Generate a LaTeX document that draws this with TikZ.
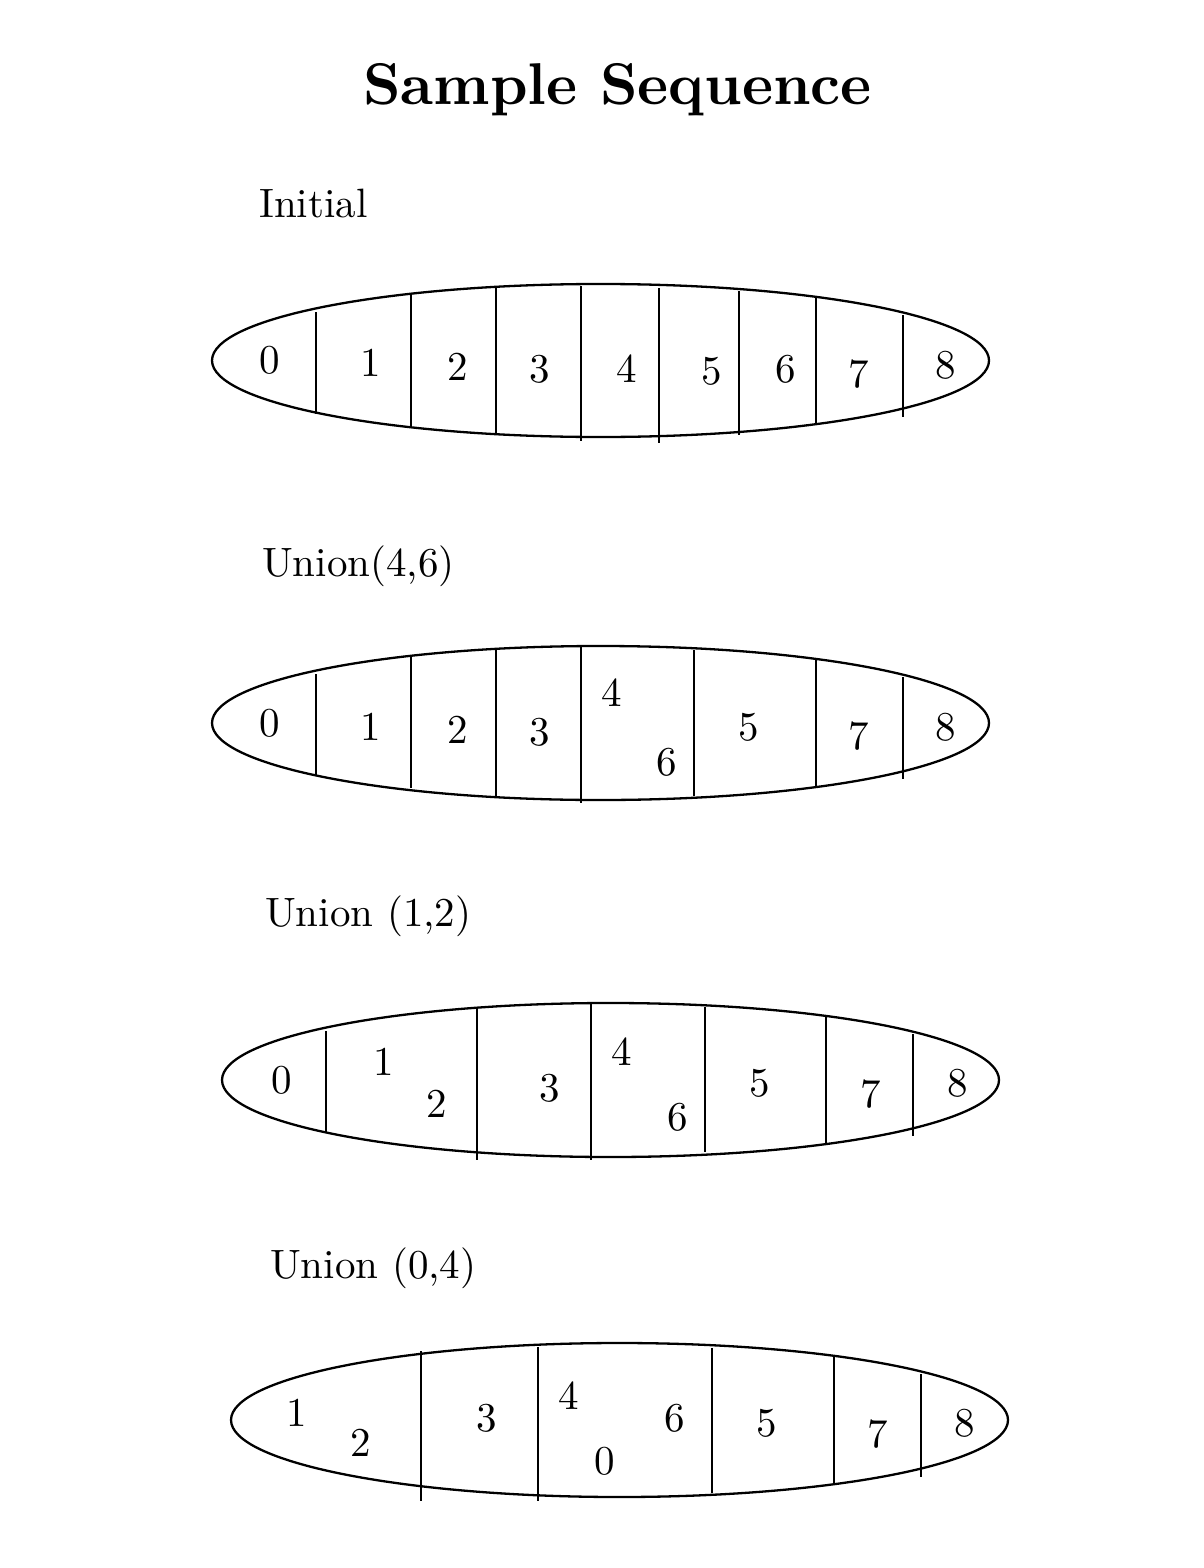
\documentclass[tikz,border=0pt]{standalone}
\newcommand{\bignum}[1]{\scalebox{4.1}{\fontsize{10}{12}\selectfont #1}}
\newcommand{\biglab}[1]{\scalebox{4.1}{\fontsize{10}{12}\selectfont #1}}
\newcommand{\bigtitle}[1]{\scalebox{5.89}{\fontsize{10}{12}\selectfont\bfseries #1}}
\begin{document}
\begin{tikzpicture}[x=1pt,y=-1pt,
  bag/.style={line width=2.3pt},
  bar/.style={line width=2.3pt},
  num/.style={inner sep=0pt},
  lab/.style={anchor=west, inner sep=0pt}]
\useasboundingbox (0,0) rectangle (1204,1568);
\node[inner sep=0pt] (title) at (617.5,90) {\bigtitle{Sample Sequence}};

% Initial
\node[lab] (l1) at (259,203) {\biglab{Initial}};
\draw[bag] (600.5,360.5) ellipse [x radius=388.5, y radius=76.5];
\foreach \x/\a/\b in {316/312/414, 411/294/426, 496/287/435, 581/286/441, 659/288/443, 739/291/435, 816/297/424, 903/315/417}
  \draw[bar] (\x,\a) -- (\x,\b);
\node[num] (a0) at (270,360) {\bignum{0}};
\node[num] (a1) at (371,363) {\bignum{1}};
\node[num] (a2) at (458,367) {\bignum{2}};
\node[num] (a3) at (540,369) {\bignum{3}};
\node[num] (a4) at (627,369) {\bignum{4}};
\node[num] (a5) at (712,371) {\bignum{5}};
\node[num] (a6) at (786,369) {\bignum{6}};
\node[num] (a7) at (859,374) {\bignum{7}};
\node[num] (a8) at (946,365) {\bignum{8}};

% Union(4,6)
\node[lab] (l2) at (262,566) {\biglab{Union(4,6)}};
\draw[bag] (600.5,723) ellipse [x radius=388.5, y radius=77];
\foreach \x/\a/\b in {316/674/776, 411/657/788, 496/649/796, 581/647/803, 694/650/796, 816/660/786, 903/677/779}
  \draw[bar] (\x,\a) -- (\x,\b);
\node[num] (b0) at (270,723) {\bignum{0}};
\node[num] (b1) at (371,727) {\bignum{1}};
\node[num] (b2) at (458,730) {\bignum{2}};
\node[num] (b3) at (540,732) {\bignum{3}};
\node[num] (b4) at (612,693) {\bignum{4}};
\node[num] (b6) at (667,762) {\bignum{6}};
\node[num] (b5) at (749,727) {\bignum{5}};
\node[num] (b7) at (859,736) {\bignum{7}};
\node[num] (b8) at (946,727) {\bignum{8}};

% Union (1,2)
\node[lab] (l3) at (265,916) {\biglab{Union (1,2)}};
\draw[bag] (610.5,1080) ellipse [x radius=388.5, y radius=77];
\foreach \x/\a/\b in {326/1031/1132, 477/1009/1160, 591/1004/1160, 705/1007/1152, 826/1017/1143, 913/1034/1136}
  \draw[bar] (\x,\a) -- (\x,\b);
\node[num] (c0) at (282,1080) {\bignum{0}};
\node[num] (c1) at (384,1062) {\bignum{1}};
\node[num] (c2) at (437,1104) {\bignum{2}};
\node[num] (c3) at (550,1088) {\bignum{3}};
\node[num] (c4) at (622,1052) {\bignum{4}};
\node[num] (c6) at (678,1117) {\bignum{6}};
\node[num] (c5) at (760,1083) {\bignum{5}};
\node[num] (c7) at (871,1094) {\bignum{7}};
\node[num] (c8) at (958,1083) {\bignum{8}};

% Union (0,4)
\node[lab] (l4) at (270,1268) {\biglab{Union (0,4)}};
\draw[bag] (619.5,1420) ellipse [x radius=388.5, y radius=77];
\foreach \x/\a/\b in {421/1351/1501, 538/1347/1501, 712/1348/1493, 834/1357/1483, 921/1374/1477}
  \draw[bar] (\x,\a) -- (\x,\b);
\node[num] (d1) at (297,1413) {\bignum{1}};
\node[num] (d2) at (361,1443) {\bignum{2}};
\node[num] (d3) at (487,1418) {\bignum{3}};
\node[num] (d4) at (569,1396) {\bignum{4}};
\node[num] (d6) at (675,1418) {\bignum{6}};
\node[num] (d0) at (605,1461) {\bignum{0}};
\node[num] (d5) at (767,1423) {\bignum{5}};
\node[num] (d7) at (878,1434) {\bignum{7}};
\node[num] (d8) at (965,1423) {\bignum{8}};
\end{tikzpicture}
\end{document}
